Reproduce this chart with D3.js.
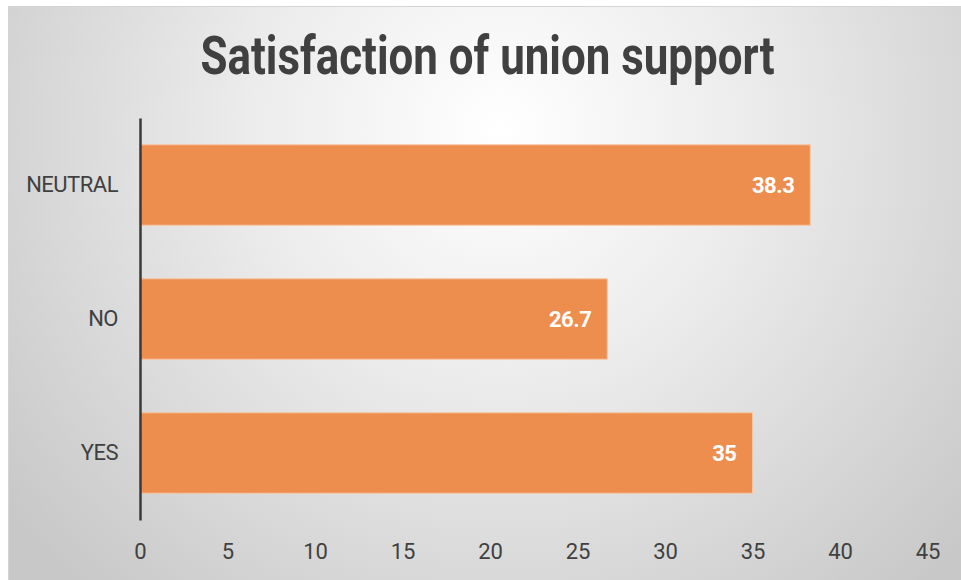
<!DOCTYPE html>
<html>
<head>
<meta charset="utf-8">
<script src="https://cdn.jsdelivr.net/npm/d3@7"></script>
<style>
  body { margin: 0; background: #fff; }
  svg { display: block; }
</style>
</head>
<body>
<div id="chart"></div>
<script>
// data
var categories = ["NEUTRAL", "NO", "YES"];
var values = [38.3, 26.7, 35];
var xTicks = [0, 5, 10, 15, 20, 25, 30, 35, 40, 45];
var title = "Satisfaction of union support";

var W = 961, H = 580;
var margin = { top: 118, right: 33.5, bottom: 60, left: 140 };
var width = 927.5 - margin.left,
    height = 520 - margin.top;

var svg = d3.select("#chart").append("svg")
    .attr("width", W)
    .attr("height", H);

var defs = svg.append("defs");
var grad = defs.append("radialGradient")
    .attr("id", "bg")
    .attr("gradientUnits", "userSpaceOnUse")
    .attr("cx", 500).attr("cy", 130)
    .attr("r", 620);
grad.append("stop").attr("offset", "0%").attr("stop-color", "#ffffff");
grad.append("stop").attr("offset", "40%").attr("stop-color", "#ececec");
grad.append("stop").attr("offset", "100%").attr("stop-color", "#c8c8c8");

// chart area background
svg.append("rect")
    .attr("x", 8.5).attr("y", 6.5)
    .attr("width", W - 8).attr("height", H - 6)
    .attr("fill", "url(#bg)")
    .attr("stroke", "#d4d4d4")
    .attr("stroke-width", 1);

svg.append("text")
    .attr("x", 487.5)
    .attr("y", 74)
    .attr("text-anchor", "middle")
    .attr("textLength", 574)
    .attr("lengthAdjust", "spacingAndGlyphs")
    .style("font-family", "Roboto, sans-serif")
    .style("font-weight", "bold")
    .style("font-size", "53px")
    .style("fill", "#404040")
    .text(title);

var g = svg.append("g")
    .attr("transform", "translate(" + margin.left + "," + margin.top + ")");

var x = d3.scaleLinear().domain([0, 45]).range([0, width]);
var y = d3.scaleBand().domain(categories).range([0, height]).paddingInner(0.4).paddingOuter(0.2);

// bars
g.selectAll(".bar")
    .data(values)
    .enter().append("rect")
    .attr("class", "bar")
    .attr("x", x(0))
    .attr("y", function(d, i) { return y(categories[i]); })
    .attr("width", function(d) { return x(d) - x(0); })
    .attr("height", y.bandwidth())
    .attr("fill", "#ed8d4e")
    .attr("stroke", "#f7c6a3")
    .attr("stroke-width", 1);

// value labels
g.selectAll(".val")
    .data(values)
    .enter().append("text")
    .attr("class", "val")
    .attr("x", function(d) { return x(d) - 16; })
    .attr("y", function(d, i) { return y(categories[i]) + y.bandwidth() / 2; })
    .attr("dy", "0.35em")
    .attr("text-anchor", "end")
    .style("font-family", "Roboto, sans-serif")
    .style("font-weight", "bold")
    .style("font-size", "22px")
    .style("letter-spacing", "-0.5px")
    .style("fill", "#ffffff")
    .text(function(d) { return d; });

// x axis (labels only)
var xAxis = d3.axisBottom(x).tickValues(xTicks).tickSize(0).tickPadding(0);
var gx = g.append("g")
    .attr("transform", "translate(0," + height + ")")
    .call(xAxis);
gx.select(".domain").remove();
gx.selectAll("text")
    .attr("y", 31)
    .attr("dy", "0.35em")
    .style("font-family", "Roboto, sans-serif")
    .style("font-size", "22px")
    .style("fill", "#404040");

// y axis
var yAxis = d3.axisLeft(y).tickSize(0).tickPadding(22);
var gy = g.append("g").call(yAxis);
gy.select(".domain")
    .attr("stroke", "#3a3a3a")
    .attr("stroke-width", 2.5);
gy.selectAll("text")
    .style("font-family", "Roboto, sans-serif")
    .style("font-size", "22px")
    .style("letter-spacing", "-0.5px")
    .style("fill", "#404040");
</script>
</body>
</html>
